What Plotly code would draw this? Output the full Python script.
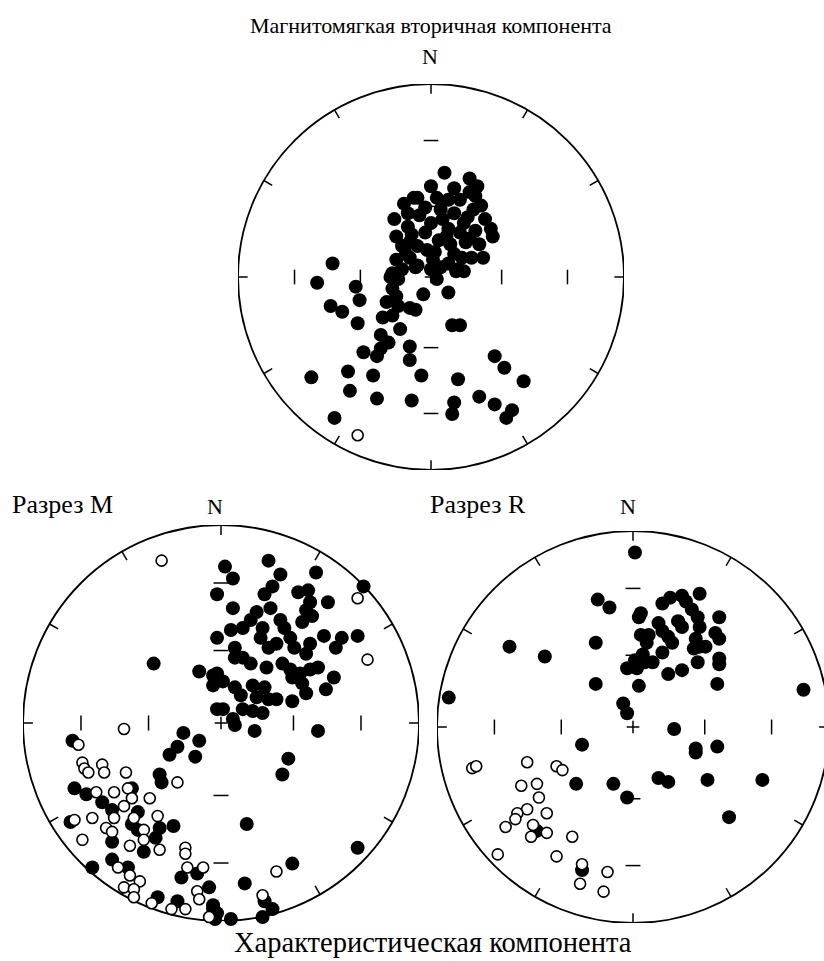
import plotly.graph_objects as go
import math

# ---------------- DATA (equal-area projection coordinates, unit circle) ----------------
# Top net: "Магнитомягкая вторичная компонента"
top_filled = [
    (-0.09, 0.41), (-0.19, 0.30), (-0.12, 0.33), (-0.18, 0.21), (-0.15, 0.16), (-0.18, 0.09),
    (-0.11, 0.10), (-0.20, 0.02), (-0.51, 0.07), (0.07, 0.54), (0.20, 0.51), (0.24, 0.47),
    (0.23, 0.42), (0.26, 0.37), (-0.07, 0.41), (0.03, 0.41), (0.09, 0.40), (0.15, 0.40),
    (0.31, 0.25), (0.32, 0.21), (0.21, 0.10), (0.18, 0.18), (0.09, 0.07), (0.14, 0.04),
    (0.01, 0.09), (-0.07, 0.16), (-0.12, 0.26), (-0.11, 0.18), (-0.03, 0.23), (0.05, 0.35),
    (0.12, 0.33), (0.19, 0.31), (0.00, 0.28), (0.09, 0.25), (0.15, 0.23), (0.04, 0.19),
    (0.10, 0.17), (-0.06, 0.32), (-0.02, 0.14), (0.23, 0.24), (0.25, 0.17), (0.16, 0.10),
    (0.05, 0.05), (-0.07, 0.06), (-0.14, 0.38), (0.00, 0.47), (0.12, 0.46), (0.20, 0.44),
    (0.28, 0.30), (0.06, 0.30), (-0.10, 0.22), (0.20, 0.20), (0.12, 0.12), (-0.15, 0.04),
    (0.27, 0.10), (0.22, 0.35), (0.02, 0.13), (-0.03, 0.36), (0.08, 0.21), (0.17, 0.28),
    (-0.13, 0.12),
    (-0.59, -0.03), (-0.39, -0.05), (-0.37, -0.12), (-0.52, -0.15),
    (-0.46, -0.18), (-0.38, -0.24), (-0.21, 0.00), (-0.17, -0.01), (-0.20, -0.06), (-0.18, -0.10),
    (-0.23, -0.13), (-0.17, -0.15), (-0.25, -0.21), (-0.20, -0.20), (-0.16, -0.27), (-0.26, -0.30),
    (-0.22, -0.34), (-0.26, -0.37), (-0.28, -0.41), (-0.35, -0.39), (-0.11, -0.16), (-0.11, -0.36),
    (-0.11, -0.43), (-0.10, -0.64), (-0.43, -0.49), (-0.62, -0.52), (-0.30, -0.51), (-0.42, -0.59),
    (-0.28, -0.63), (-0.50, -0.73), (-0.08, 0.05), (0.00, 0.04), (0.03, -0.01), (0.13, 0.03),
    (0.17, 0.03), (-0.04, -0.09), (0.09, -0.08), (-0.08, -0.17), (0.11, -0.25), (0.15, -0.25),
    (-0.05, -0.51), (0.14, -0.53), (0.33, -0.41), (0.38, -0.47), (0.48, -0.54), (0.12, -0.65),
    (0.11, -0.71), (0.25, -0.62), (0.33, -0.66), (0.39, -0.73), (0.42, -0.69),
]
top_open = [(-0.38, -0.82)]

# Bottom-left net: "Разрез M"
m_filled = [
    (-0.02, 0.65), (-0.02, 0.43), (-0.34, 0.30), (-0.11, 0.26), (-0.04, 0.24), (-0.04, 0.19),
    (-0.02, 0.07), (-0.19, -0.05), (0.02, 0.79), (0.06, 0.73), (0.24, 0.82), (0.30, 0.75),
    (0.48, 0.76), (0.26, 0.69), (0.22, 0.65), (0.39, 0.66), (0.44, 0.67), (0.45, 0.61),
    (0.43, 0.57), (0.46, 0.54), (0.41, 0.51), (0.54, 0.61), (0.72, 0.69), (0.06, 0.58),
    (0.18, 0.56), (0.25, 0.58), (0.15, 0.52), (0.30, 0.52), (0.32, 0.48), (0.21, 0.48),
    (0.05, 0.47), (0.11, 0.48), (0.20, 0.43), (0.24, 0.38), (0.28, 0.40), (0.35, 0.43),
    (0.37, 0.38), (0.45, 0.40), (0.43, 0.35), (0.52, 0.44), (0.61, 0.43), (0.58, 0.38),
    (0.69, 0.44), (0.07, 0.38), (0.11, 0.33), (0.15, 0.30), (0.07, 0.33), (0.23, 0.28),
    (0.31, 0.30), (0.35, 0.27), (0.40, 0.25), (0.45, 0.27), (0.49, 0.28), (0.36, 0.23),
    (0.41, 0.20), (0.57, 0.23), (-0.02, 0.25), (0.01, 0.21), (0.07, 0.18), (0.10, 0.14),
    (0.16, 0.19), (0.22, 0.18), (0.18, 0.13), (0.24, 0.12), (0.28, 0.12), (0.43, 0.15),
    (0.53, 0.17), (0.36, 0.11), (0.01, 0.07), (0.11, 0.07), (0.16, 0.06), (0.21, 0.05),
    (0.06, 0.02), (0.17, -0.04), (0.49, -0.04), (0.07, -0.01),
    (-0.75, -0.09), (-0.11, -0.09), (-0.22, -0.12), (-0.26, -0.16), (-0.13, -0.17),
    (-0.31, -0.26), (-0.30, -0.30), (-0.74, -0.33), (-0.68, -0.36), (-0.45, -0.33),
    (-0.60, -0.40), (-0.55, -0.44), (-0.42, -0.45), (-0.76, -0.50), (-0.45, -0.51),
    (-0.42, -0.54), (-0.31, -0.53), (-0.33, -0.58), (-0.24, -0.52), (-0.55, -0.60),
    (-0.39, -0.65), (-0.65, -0.73), (-0.55, -0.69), (-0.47, -0.73), (-0.12, -0.76),
    (-0.20, -0.78), (-0.06, -0.83), (-0.32, -0.88), (-0.22, -0.90), (-0.04, -0.92),
    (-0.03, -0.99), (0.34, -0.18), (0.31, -0.26), (0.13, -0.51), (0.69, -0.63),
    (0.36, -0.71), (0.12, -0.81), (0.22, -0.90), (0.26, -0.94), (-0.04, -0.94),
    (-0.02, -0.96), (0.05, -0.99), (0.21, -0.98),
]
m_open = [
    (-0.30, 0.82), (0.69, 0.63), (0.74, 0.32), (-0.49, -0.03), (-0.72, -0.11), (-0.70, -0.20),
    (-0.69, -0.23), (-0.67, -0.25), (-0.60, -0.21), (-0.59, -0.25), (-0.48, -0.25), (-0.22, -0.30),
    (-0.63, -0.35), (-0.54, -0.35), (-0.47, -0.33), (-0.45, -0.38), (-0.36, -0.38), (-0.49, -0.42),
    (-0.44, -0.48), (-0.74, -0.49), (-0.65, -0.48), (-0.54, -0.48), (-0.58, -0.53), (-0.55, -0.55),
    (-0.39, -0.54), (-0.32, -0.47), (-0.70, -0.59), (-0.46, -0.62), (-0.39, -0.59), (-0.31, -0.64),
    (-0.18, -0.63), (-0.18, -0.66), (-0.52, -0.73), (-0.46, -0.77), (-0.41, -0.80), (-0.49, -0.83),
    (-0.44, -0.84), (-0.44, -0.88), (-0.17, -0.73), (-0.09, -0.73), (-0.12, -0.85), (-0.11, -0.89),
    (-0.35, -0.91), (-0.25, -0.94), (-0.18, -0.94), (-0.06, -0.98), (0.28, -0.75), (0.21, -0.87),
]

# Bottom-right net: "Разрез R"
r_filled = [
    (-0.18, 0.65), (-0.12, 0.61), (-0.19, 0.43), (-0.63, 0.41), (-0.45, 0.36), (-0.94, 0.15),
    (-0.19, 0.22), (-0.03, 0.30), (-0.05, 0.12), (-0.03, 0.07), (0.01, 0.89), (0.34, 0.68),
    (0.19, 0.66), (0.15, 0.63), (0.25, 0.67), (0.27, 0.64), (0.04, 0.58), (0.03, 0.56),
    (0.30, 0.60), (0.33, 0.56), (0.34, 0.51), (0.23, 0.54), (0.25, 0.51), (0.13, 0.53),
    (0.15, 0.49), (0.44, 0.56), (0.04, 0.47), (0.08, 0.47), (0.07, 0.43), (0.18, 0.46),
    (0.20, 0.43), (0.42, 0.48), (0.44, 0.45), (0.32, 0.45), (0.34, 0.41), (0.31, 0.40),
    (0.37, 0.41), (0.15, 0.38), (0.05, 0.37), (0.01, 0.34), (0.10, 0.33), (0.06, 0.33),
    (0.02, 0.30), (0.33, 0.33), (0.44, 0.35), (0.44, 0.32), (0.25, 0.29), (0.18, 0.27),
    (0.03, 0.21), (0.43, 0.22), (0.87, 0.19), (0.21, -0.01), (-0.26, -0.09), (-0.29, -0.29),
    (-0.10, -0.29), (-0.03, -0.36), (0.32, -0.11), (0.32, -0.13), (0.43, -0.10), (0.13, -0.26),
    (0.18, -0.28), (0.38, -0.27), (0.66, -0.27), (0.49, -0.46), (-0.49, -0.53), (-0.26, -0.73),
]
r_open = [
    (-0.82, -0.21), (-0.80, -0.20), (-0.54, -0.18), (-0.39, -0.20), (-0.36, -0.22), (-0.57, -0.30),
    (-0.49, -0.29), (-0.48, -0.36), (-0.54, -0.42), (-0.44, -0.44), (-0.59, -0.44), (-0.60, -0.47),
    (-0.65, -0.51), (-0.51, -0.50), (-0.52, -0.56), (-0.44, -0.54), (-0.31, -0.56), (-0.69, -0.65),
    (-0.39, -0.66), (-0.26, -0.70), (-0.13, -0.74), (-0.27, -0.80), (-0.15, -0.84),
]

title_top = "Магнитомягкая вторичная компонента"
title_bottom = "Характеристическая компонента"
label_m = "Разрез M"
label_r = "Разрез R"
north = "N"

# ---------------- LAYOUT ----------------
W, H = 824, 961
FONT = "Liberation Serif, Times New Roman, serif"

# (axis suffix, center x px, center y px, radius px)
nets = [("", 431, 277, 193), ("2", 221, 723, 198), ("3", 633, 727, 196)]
datasets = [(top_filled, top_open), (m_filled, m_open), (r_filled, r_open)]

fig = go.Figure()
shapes = []

for (suf, cx, cy, R), (filled, opened) in zip(nets, datasets):
    xa, ya = "x" + suf, "y" + suf
    x0px = max(cx - R, 0)
    x1px = min(cx + R, W)
    xr = [(x0px - cx) / R, (x1px - cx) / R]
    dom_x = [x0px / W, x1px / W]
    dom_y = [1 - (cy + R) / H, 1 - (cy - R) / H]
    fig.layout["xaxis" + suf] = dict(domain=dom_x, range=xr, visible=False, fixedrange=True)
    fig.layout["yaxis" + suf] = dict(domain=dom_y, range=[-1, 1], visible=False, fixedrange=True)

    line = dict(color="black", width=1.5)
    shapes.append(dict(type="circle", xref=xa, yref=ya, x0=-1, x1=1, y0=-1, y1=1,
                       line=dict(color="black", width=1.8), layer="below"))
    for k in range(12):
        a = math.radians(k * 30)
        s, c = math.sin(a), math.cos(a)
        shapes.append(dict(type="line", xref=xa, yref=ya, x0=s, y0=c, x1=0.95 * s, y1=0.95 * c,
                           line=line, layer="below"))
    for inc in (30, 60):
        r = math.sqrt(2) * math.sin(math.radians((90 - inc) / 2))
        h = 0.038
        for sx in (-1, 1):
            shapes.append(dict(type="line", xref=xa, yref=ya, x0=sx * r, x1=sx * r, y0=-h, y1=h,
                               line=line, layer="below"))
        for sy in (-1, 1):
            shapes.append(dict(type="line", xref=xa, yref=ya, y0=sy * r, y1=sy * r, x0=-h, x1=h,
                               line=line, layer="below"))
    c = 0.032
    shapes.append(dict(type="line", xref=xa, yref=ya, x0=-c, x1=c, y0=0, y1=0, line=line, layer="below"))
    shapes.append(dict(type="line", xref=xa, yref=ya, x0=0, x1=0, y0=-c, y1=c, line=line, layer="below"))

    fig.add_trace(go.Scatter(x=[p[0] for p in filled], y=[p[1] for p in filled], mode="markers",
                             xaxis=xa, yaxis=ya, cliponaxis=False, showlegend=False,
                             marker=dict(size=14, color="black", line=dict(width=0))))
    fig.add_trace(go.Scatter(x=[p[0] for p in opened], y=[p[1] for p in opened], mode="markers",
                             xaxis=xa, yaxis=ya, cliponaxis=False, showlegend=False,
                             marker=dict(size=11, color="white", line=dict(color="black", width=1.6))))

def ann(text, xpx, ypx, size, xanchor="center"):
    return dict(text=text, x=xpx / W, y=1 - ypx / H, xref="paper", yref="paper",
                showarrow=False, xanchor=xanchor, yanchor="middle",
                font=dict(family=FONT, size=size, color="black"))

annotations = [
    ann(title_top, 431, 26, 22),
    ann(north, 430, 56, 22),
    ann(label_m, 10, 505, 26, "left"),
    ann(north, 215, 506, 22),
    ann(label_r, 428, 505, 26, "left"),
    ann(north, 628, 506, 22),
    ann(title_bottom, 433, 942, 28.5),
]

fig.update_layout(width=W, height=H, margin=dict(l=0, r=0, t=0, b=0),
                  paper_bgcolor="white", plot_bgcolor="rgba(0,0,0,0)",
                  shapes=shapes, annotations=annotations)

fig.write_html("out.html")
